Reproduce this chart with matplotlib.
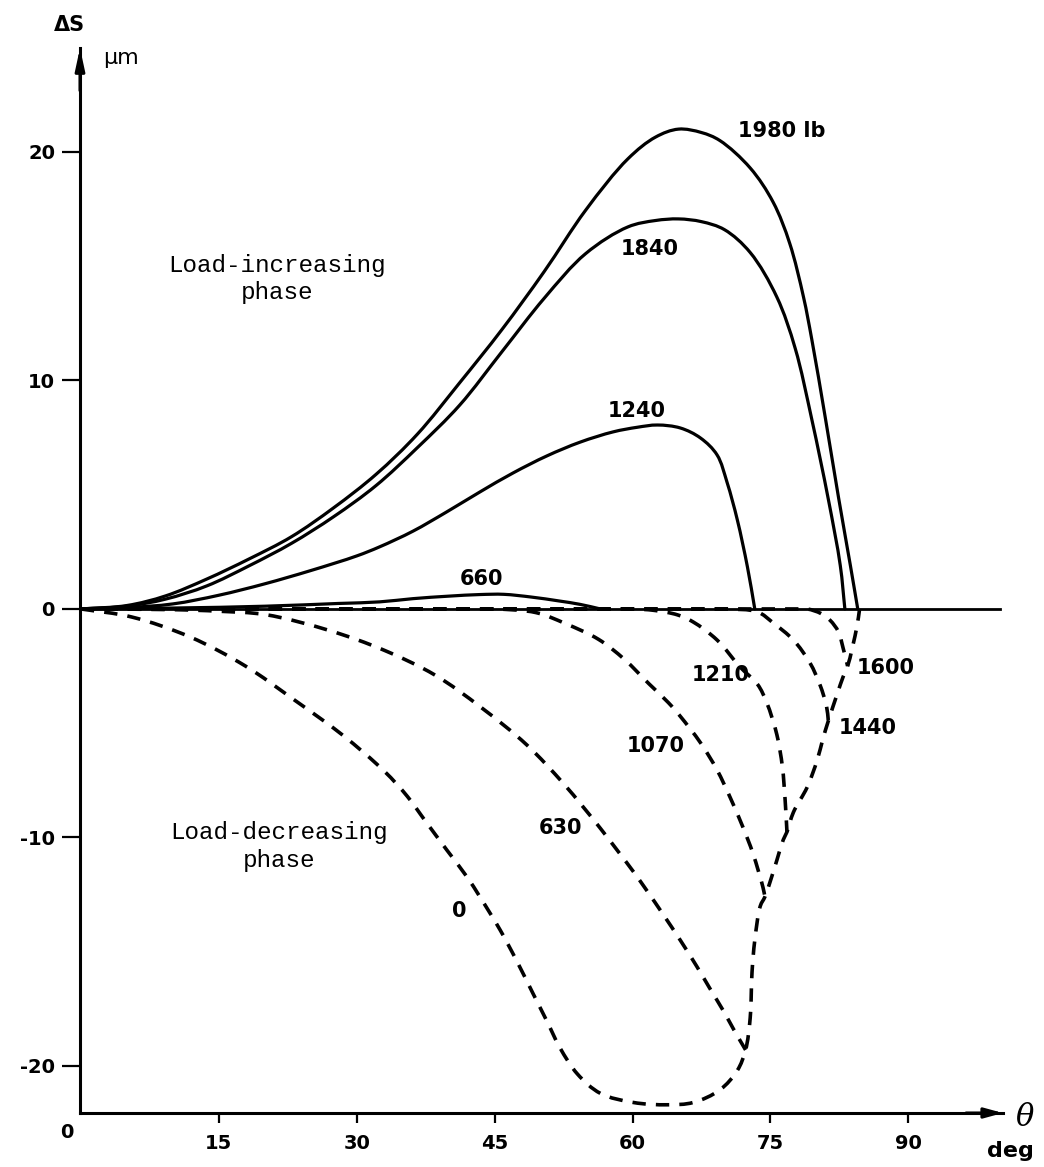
import numpy as np
import matplotlib
matplotlib.use("Agg")
import matplotlib.pyplot as plt
from matplotlib.path import Path
from matplotlib.patches import PathPatch

plt.rcParams['axes.unicode_minus'] = False

# load-increasing phase (solid), theta in deg, delta S in um
th_1980 = [0, 5, 9.2, 13.7, 18.3, 22.9, 27.5, 32.1, 36.6, 41.2, 45.8, 50.4, 54.9, 59.5,
           62.5, 65.0, 67.5, 69.5, 72.8, 75.3, 77.1, 78.6, 79.5, 81.0, 82.4, 83.7, 84.5]
ds_1980 = [0, 0.15, 0.57, 1.31, 2.19, 3.16, 4.43, 5.89, 7.65, 9.9, 12.23, 14.77, 17.45, 19.7,
           20.65, 21.0, 20.85, 20.5, 19.3, 17.8, 16.0, 13.65, 11.8, 8.3, 4.9, 1.9, 0]

th_1840 = [0, 5, 9.2, 13.7, 18.3, 22.9, 27.5, 32.1, 36.6, 41.2, 45.8, 50.4, 54.9, 59.5,
           62.5, 65.0, 67.5, 70.0, 72.8, 75.7, 77.7, 79.5, 81.3, 82.6, 83.1]
ds_1840 = [0, 0.12, 0.43, 1.01, 1.89, 2.87, 4.04, 5.40, 7.06, 8.92, 11.26, 13.6, 15.55, 16.72,
           17.0, 17.07, 16.95, 16.6, 15.6, 13.65, 11.4, 8.3, 4.8, 1.9, 0]

th_1240 = [0, 5, 10, 15, 20, 25, 30, 32.5, 36.1, 39.8, 43.4, 47.0, 50.7, 54.3, 57.9,
           60.5, 62.7, 65.2, 67.4, 69.2, 70.3, 71.4, 72.5, 73.3]
ds_1240 = [0, 0.06, 0.22, 0.6, 1.1, 1.68, 2.32, 2.72, 3.4, 4.25, 5.12, 5.95, 6.7, 7.3, 7.75,
           7.95, 8.05, 7.92, 7.48, 6.74, 5.52, 3.90, 1.84, 0]

th_660 = [0, 10, 20, 28, 32.5, 36.1, 40, 43.4, 46, 49, 52, 54.3, 56.5]
ds_660 = [0, 0.04, 0.12, 0.24, 0.31, 0.45, 0.56, 0.63, 0.64, 0.52, 0.35, 0.2, 0]

# load-decreasing phase (dashed)
th_0 = [0, 5.5, 11.9, 17.9, 23.1, 28.4, 33.0, 35.5, 37.5, 39.8, 42.0, 43.4, 45.6, 47.4, 49.2,
        50.7, 52.1, 54.0, 56.5, 60.1, 63.8, 66.6, 69.5, 71.4, 72.3, 72.8, 73.0, 73.3, 73.9,
        74.4, 75.0, 75.7, 76.4, 76.8, 77.5, 79.0, 80.1, 80.7, 81.3, 82.3, 82.9, 83.4, 84.4, 84.7]
ds_0 = [0, -0.35, -1.23, -2.5, -3.95, -5.5, -7.1, -8.2, -9.3, -10.55, -11.73, -12.6, -14.05,
        -15.4, -16.85, -18.05, -19.2, -20.35, -21.2, -21.6, -21.7, -21.6, -21.05, -20.2, -19.3,
        -17.9, -15.9, -14.5, -13.0, -12.6, -11.9, -11.0, -10.1, -9.76, -8.9, -7.8, -6.6, -5.7,
        -4.9, -3.68, -2.98, -2.5, -0.79, 0]

th_630 = [0, 10, 15, 20.1, 27.0, 33.0, 38.5, 43.5, 48.5, 52.4, 54.6, 56.5, 58.6, 60.1, 61.6,
          63.3, 65.2, 67.0, 68.4, 69.9, 71.0, 72.3]
ds_630 = [0, -0.03, -0.1, -0.25, -0.94, -1.81, -2.89, -4.3, -5.95, -7.6, -8.65, -9.6, -10.7,
          -11.5, -12.35, -13.35, -14.5, -15.65, -16.6, -17.6, -18.4, -19.3]

th_1070 = [0, 45, 49.5, 52.7, 56.3, 59.1, 61.8, 63.9, 65.2, 67.4, 69.2, 70.6, 72.0, 73.1, 74.2, 74.4]
ds_1070 = [0, 0, -0.16, -0.64, -1.33, -2.2, -3.28, -4.1, -4.7, -5.86, -7.05, -8.23, -9.54,
           -10.7, -12.2, -12.6]

th_1210 = [0, 60, 62.3, 64.9, 66.6, 69.2, 71.7, 73.6, 74.6, 75.7, 76.3, 76.6, 76.8]
ds_1210 = [0, 0, -0.06, -0.26, -0.57, -1.36, -2.54, -3.3, -4.1, -5.5, -6.9, -8.36, -9.76]

th_1440 = [0, 70, 73.6, 75.3, 77.5, 79.3, 80.4, 81.1, 81.3]
ds_1440 = [0, 0, -0.13, -0.61, -1.36, -2.36, -3.33, -4.25, -4.9]

th_1600 = [0, 79.0, 80.5, 81.5, 82.4, 82.9, 83.4]
ds_1600 = [0, 0, -0.2, -0.5, -1.0, -1.7, -2.5]

xticks = [15, 30, 45, 60, 75, 90]
yticks = [-20, -10, 0, 10, 20]


def smooth_path(xs, ys, sx=9.19, sy=22.85):
    # centripetal Catmull-Rom through the points, as cubic Bezier segments;
    # runs lying flat on the zero line stay straight
    p = np.column_stack([np.asarray(xs, float) * sx, np.asarray(ys, float) * sy])
    p = np.vstack([2 * p[0] - p[1], p, 2 * p[-1] - p[-2]])
    verts = [p[1]]
    codes = [Path.MOVETO]
    for i in range(1, len(p) - 2):
        p0, p1, p2, p3 = p[i - 1], p[i], p[i + 1], p[i + 2]
        if p1[1] == 0 and p2[1] == 0:
            verts.append(p2)
            codes.append(Path.LINETO)
            continue
        if p0[1] == 0 and p1[1] == 0 and i > 1:
            # leave the flat run with a horizontal tangent
            p0 = p1 - np.array([np.linalg.norm(p2 - p1), 0.0])
        d1 = max(np.linalg.norm(p1 - p0) ** 0.5, 1e-6)
        d2 = max(np.linalg.norm(p2 - p1) ** 0.5, 1e-6)
        d3 = max(np.linalg.norm(p3 - p2) ** 0.5, 1e-6)
        b1 = (d1 ** 2 * p2 - d2 ** 2 * p0 + (2 * d1 ** 2 + 3 * d1 * d2 + d2 ** 2) * p1) / (3 * d1 * (d1 + d2))
        b2 = (d3 ** 2 * p1 - d2 ** 2 * p3 + (2 * d3 ** 2 + 3 * d3 * d2 + d2 ** 2) * p2) / (3 * d3 * (d3 + d2))
        verts += [b1, b2, p2]
        codes += [Path.CURVE4] * 3
    verts = np.array(verts) / [sx, sy]
    return Path(verts, codes)


W, H = 1044, 1167
fig = plt.figure(figsize=(W / 100, H / 100), dpi=100)
ax = fig.add_axes([80 / W, 54 / H, 923 / W, 1065 / H])
ax.set_xlim(-0.1, 100.3)
ax.set_ylim(-22.06, 24.55)

for s in ['top', 'right']:
    ax.spines[s].set_visible(False)
for s in ['left', 'bottom']:
    ax.spines[s].set_linewidth(2.2)

ax.axhline(0, color='k', lw=2.0, xmax=0.997)

solid = dict(facecolor='none', edgecolor='k', lw=2.3, capstyle='round', joinstyle='round')
for xs, ys in [(th_1980, ds_1980), (th_1840, ds_1840), (th_1240, ds_1240), (th_660, ds_660)]:
    ax.add_patch(PathPatch(smooth_path(xs, ys), **solid))

dashed = dict(facecolor='none', edgecolor='k', lw=2.6, linestyle=(0, (3.7, 2.8)), capstyle='butt')
for xs, ys in [(th_0, ds_0), (th_630, ds_630), (th_1070, ds_1070),
               (th_1210, ds_1210), (th_1440, ds_1440), (th_1600, ds_1600)]:
    ax.add_patch(PathPatch(smooth_path(xs, ys), **dashed))

# axis arrows
ax.annotate('', xy=(1, 0), xytext=(0.96, 0), xycoords='axes fraction',
            arrowprops=dict(arrowstyle='-|>,head_length=1.1,head_width=0.3', lw=2.2, color='k',
                            shrinkA=0, shrinkB=0))
ax.annotate('', xy=(0, 1), xytext=(0, 0.96), xycoords='axes fraction',
            arrowprops=dict(arrowstyle='-|>,head_length=1.3,head_width=0.28', lw=2.2, color='k',
                            shrinkA=0, shrinkB=0))

ax.set_xticks(xticks)
ax.set_xticklabels([str(t) for t in xticks])
ax.set_yticks(yticks)
ax.set_yticklabels([str(t) for t in yticks])
ax.tick_params(axis='x', direction='out', length=7.2, width=1.6, pad=8, labelsize=14)
ax.tick_params(axis='y', direction='out', length=13, width=1.6, pad=5, labelsize=14)
for lab in ax.get_xticklabels() + ax.get_yticklabels():
    lab.set_fontweight('bold')

num = dict(fontsize=15, fontweight='bold', color='k')
ax.text(71.5, 20.9, '1980 lb', ha='left', va='center', **num)
ax.text(61.9, 15.75, '1840', ha='center', va='center', **num)
ax.text(60.5, 8.67, '1240', ha='center', va='center', **num)
ax.text(43.6, 1.3, '660', ha='center', va='center', **num)
ax.text(69.6, -2.9, '1210', ha='center', va='center', **num)
ax.text(62.5, -6.0, '1070', ha='center', va='center', **num)
ax.text(52.2, -9.6, '630', ha='center', va='center', **num)
ax.text(41.1, -13.2, '0', ha='center', va='center', **num)
ax.text(84.4, -2.6, '1600', ha='left', va='center', **num)
ax.text(82.4, -5.2, '1440', ha='left', va='center', **num)

mono = dict(fontsize=17.5, family='Liberation Mono', ha='center', va='center',
            multialignment='center', linespacing=1.25)
ax.text(21.3, 14.45, 'Load-increasing\nphase', **mono)
ax.text(21.6, -10.4, 'Load-decreasing\nphase', **mono)

# axis labels
fig.text(69 / W, 1 - 25 / H, 'ΔS', fontsize=15, fontweight='bold', ha='center', va='center')
fig.text(121 / W, 1 - 58 / H, 'μm', fontsize=16, ha='center', va='center')
fig.text(1025 / W, 1 - 1117 / H, 'θ', fontsize=22, style='italic', family='DejaVu Serif',
         ha='center', va='center')
fig.text(1010 / W, 1 - 1151 / H, 'deg', fontsize=16, fontweight='bold', ha='center', va='center')
fig.text(67 / W, 1 - 1132 / H, '0', fontsize=14, fontweight='bold', ha='center', va='center')

fig.savefig('out.png', dpi=100)
